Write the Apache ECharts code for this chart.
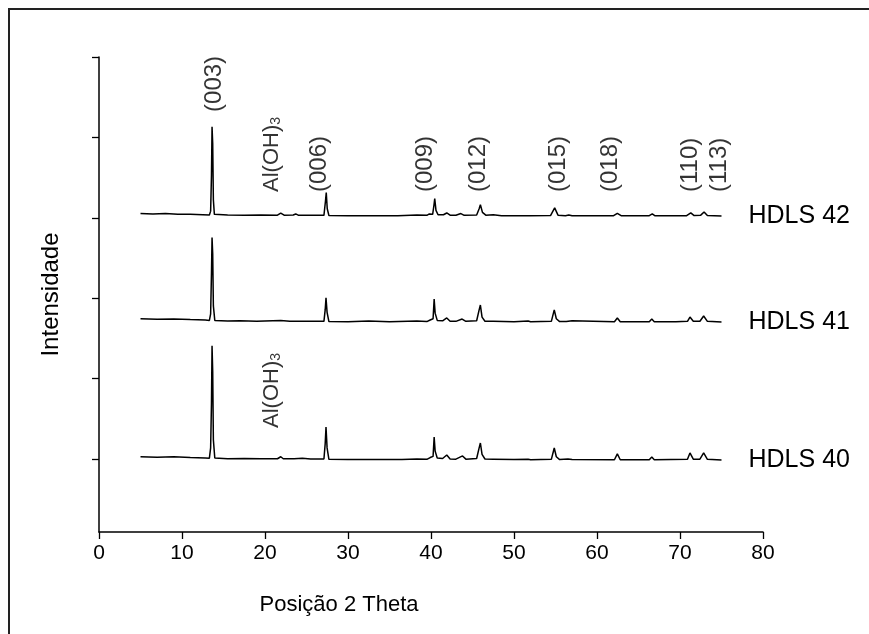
<!DOCTYPE html>
<html>
<head>
<meta charset="utf-8">
<title>DRX HDLS</title>
<script src="https://cdn.jsdelivr.net/npm/echarts@6.0.0/dist/echarts.min.js"></script>
<style>
  html, body { margin: 0; padding: 0; background: #fff; }
  #chart { width: 869px; height: 634px; }
</style>
</head>
<body>
<div id="chart"></div>
<script>
// Diffractograms (2θ in degrees, intensity in counts above each trace's baseline)
const hdls42 = [[5.0,30],[6.5,25],[8.0,30],[9.5,22],[11.0,20],[12.5,15],[13.3,12],[13.45,60],[13.55,500],[13.62,1110],[13.7,900],[13.78,200],[13.9,20],[15.5,12],[17.5,10],[19.5,12],[21.5,10],[21.9,35],[22.3,10],[23.4,12],[23.7,25],[24.0,10],[25.5,8],[27.1,8],[27.28,180],[27.38,290],[27.5,90],[27.7,5],[30.0,3],[32.3,3],[32.5,18],[32.7,3],[36.0,3],[38.3,12],[39.5,8],[39.8,25],[40.2,20],[40.35,130],[40.45,215],[40.6,70],[40.85,15],[41.5,15],[41.9,37],[42.3,10],[43.0,8],[43.6,30],[44.0,8],[45.5,12],[45.8,90],[45.95,140],[46.2,45],[46.6,10],[47.5,15],[48.5,3],[51.5,3],[51.7,18],[51.9,3],[54.4,5],[54.9,100],[55.3,10],[56.2,3],[56.6,12],[57.0,3],[62.0,3],[62.45,32],[62.9,3],[66.3,3],[66.66,25],[67.0,2],[70.8,3],[71.3,38],[71.7,5],[72.5,10],[72.9,50],[73.3,5],[75.0,0]];
const hdls41 = [[5.0,40],[7.0,35],[9.0,38],[11.0,30],[12.8,25],[13.3,20],[13.45,100],[13.55,600],[13.62,1050],[13.7,850],[13.78,200],[13.95,20],[15.5,12],[17.0,15],[19.0,10],[21.9,20],[23.0,10],[25.0,8],[27.1,8],[27.25,150],[27.35,300],[27.48,120],[27.7,5],[30.0,3],[32.5,12],[35.0,2],[38.3,12],[39.5,5],[39.9,25],[40.25,40],[40.38,285],[40.5,110],[40.75,20],[41.4,15],[41.9,50],[42.3,10],[43.0,8],[43.75,37],[44.2,8],[45.5,15],[45.8,150],[45.95,211],[46.15,60],[46.5,10],[47.5,8],[50.0,3],[51.7,12],[52.0,2],[54.5,8],[54.85,150],[55.1,40],[55.5,5],[56.3,5],[56.5,15],[57.0,15],[57.2,3],[62.1,3],[62.45,50],[62.8,3],[66.3,3],[66.6,37],[66.9,3],[69.5,3],[70.9,8],[71.2,62],[71.6,10],[72.4,10],[72.85,75],[73.3,8],[75.0,0]];
const hdls40 = [[5.0,40],[7.0,35],[9.0,40],[11.0,30],[12.8,25],[13.3,22],[13.45,150],[13.55,700],[13.62,1420],[13.7,1100],[13.78,250],[13.95,25],[15.5,15],[17.5,18],[19.5,15],[21.5,15],[21.9,40],[22.2,15],[23.5,15],[24.5,20],[25.5,12],[27.1,12],[27.25,200],[27.35,410],[27.48,150],[27.7,8],[30.0,5],[33.0,5],[36.5,5],[38.3,12],[39.5,8],[39.9,30],[40.25,45],[40.38,286],[40.5,110],[40.75,25],[41.4,18],[41.9,62],[42.3,12],[43.0,10],[43.8,50],[44.2,10],[45.5,18],[45.8,150],[45.95,211],[46.15,70],[46.5,12],[47.5,10],[50.0,5],[51.7,10],[52.0,3],[54.5,8],[54.85,149],[55.1,40],[55.5,5],[56.5,12],[57.0,5],[62.1,3],[62.45,75],[62.8,3],[66.3,3],[66.6,37],[66.9,3],[70.9,8],[71.2,87],[71.6,10],[72.4,10],[72.85,87],[73.3,8],[75.0,0]];

// Vertical offsets stacking the traces
const sampleNames = ['HDLS 42', 'HDLS 41', 'HDLS 40'];
const sampleOffsets = [3023, 1704, -12];

// Miller indices annotated above the top trace
const peakLabels = ['(003)', '(006)', '(009)', '(012)', '(015)', '(018)', '(110)', '(113)'];
const peakLabelX = [13.86, 26.6, 39.3, 45.7, 55.3, 61.6, 71.2, 74.8];
const peakLabelY = [4317, 3321, 3321, 3321, 3321, 3321, 3321, 3321];

// Al(OH)3 phase markers
const aohLabelX = [20.8, 20.8];
const aohLabelY = [3321, 386];

// Axis ticks
const xTicks = [0, 10, 20, 30, 40, 50, 60, 70, 80];
const yTicks = [0, 1000, 2000, 3000, 4000, 5000];

const FONT = "'Liberation Sans', Arial, sans-serif";
const traces = [hdls42, hdls41, hdls40];

const lineSeries = traces.map((pts, i) => ({
  name: sampleNames[i],
  type: 'line',
  data: pts.map(p => [p[0], p[1] + sampleOffsets[i]]),
  showSymbol: false,
  symbol: 'none',
  lineStyle: { color: '#000', width: 1.5 },
  silent: true,
  endLabel: {
    show: true,
    formatter: '{a}',
    distance: 27,
    fontFamily: FONT,
    fontSize: 25,
    color: '#000'
  }
}));

const hklSeries = {
  type: 'scatter',
  symbolSize: 0,
  silent: true,
  data: peakLabels.map((t, i) => ({ value: [peakLabelX[i], peakLabelY[i]], name: t })),
  label: {
    show: true,
    position: [0, 0],
    rotate: 90,
    align: 'left',
    verticalAlign: 'middle',
    formatter: p => p.name,
    fontFamily: FONT,
    fontSize: 24,
    color: '#000'
  }
};

const aohSeries = {
  type: 'scatter',
  symbolSize: 0,
  silent: true,
  data: aohLabelX.map((x, i) => [x, aohLabelY[i]]),
  label: {
    show: true,
    position: [0, 0],
    rotate: 90,
    align: 'left',
    verticalAlign: 'middle',
    color: '#000',
    formatter: '{a|Al(OH)}{s|3}',
    rich: {
      a: { fontFamily: FONT, fontSize: 22, lineHeight: 24, color: '#000' },
      s: { fontFamily: FONT, fontSize: 14, lineHeight: 13, verticalAlign: 'bottom', color: '#000' }
    }
  }
};

const chart = echarts.init(document.getElementById('chart'), null, { renderer: 'canvas' });
chart.setOption({
  animation: false,
  backgroundColor: '#fff',
  grid: { left: 99, right: 106, top: 57, bottom: 102, containLabel: false },
  xAxis: {
    type: 'value',
    min: 0,
    max: 80,
    interval: 10,
    name: 'Posição 2 Theta',
    nameLocation: 'middle',
    nameGap: 62,
    nameTextStyle: { fontFamily: FONT, fontSize: 22, color: '#000', padding: [0, 184, 0, 0] },
    axisLine: { show: true, onZero: false, lineStyle: { color: '#000', width: 1.5 } },
    axisTick: { show: true, inside: false, length: 7, lineStyle: { color: '#000', width: 1.3 } },
    axisLabel: {
      fontFamily: FONT, fontSize: 21, color: '#000', margin: 11,
      formatter: v => (xTicks.indexOf(v) >= 0 ? String(v) : '')
    },
    splitLine: { show: false }
  },
  yAxis: {
    type: 'value',
    min: -908,
    max: 5000,
    name: 'Intensidade',
    nameLocation: 'middle',
    nameGap: 36,
    nameTextStyle: { fontFamily: FONT, fontSize: 24, color: '#000' },
    axisLine: { show: true, onZero: false, lineStyle: { color: '#000', width: 1.5 } },
    axisTick: { show: true, inside: false, length: 7, customValues: yTicks, lineStyle: { color: '#000', width: 1.3 } },
    axisLabel: { show: false },
    splitLine: { show: false }
  },
  graphic: [{
    type: 'polyline',
    silent: true,
    shape: { points: [[9, 634], [9, 9], [869, 9]] },
    style: { stroke: '#222', lineWidth: 2, fill: null }
  }],
  series: [...lineSeries, hklSeries, aohSeries]
});
</script>
</body>
</html>
